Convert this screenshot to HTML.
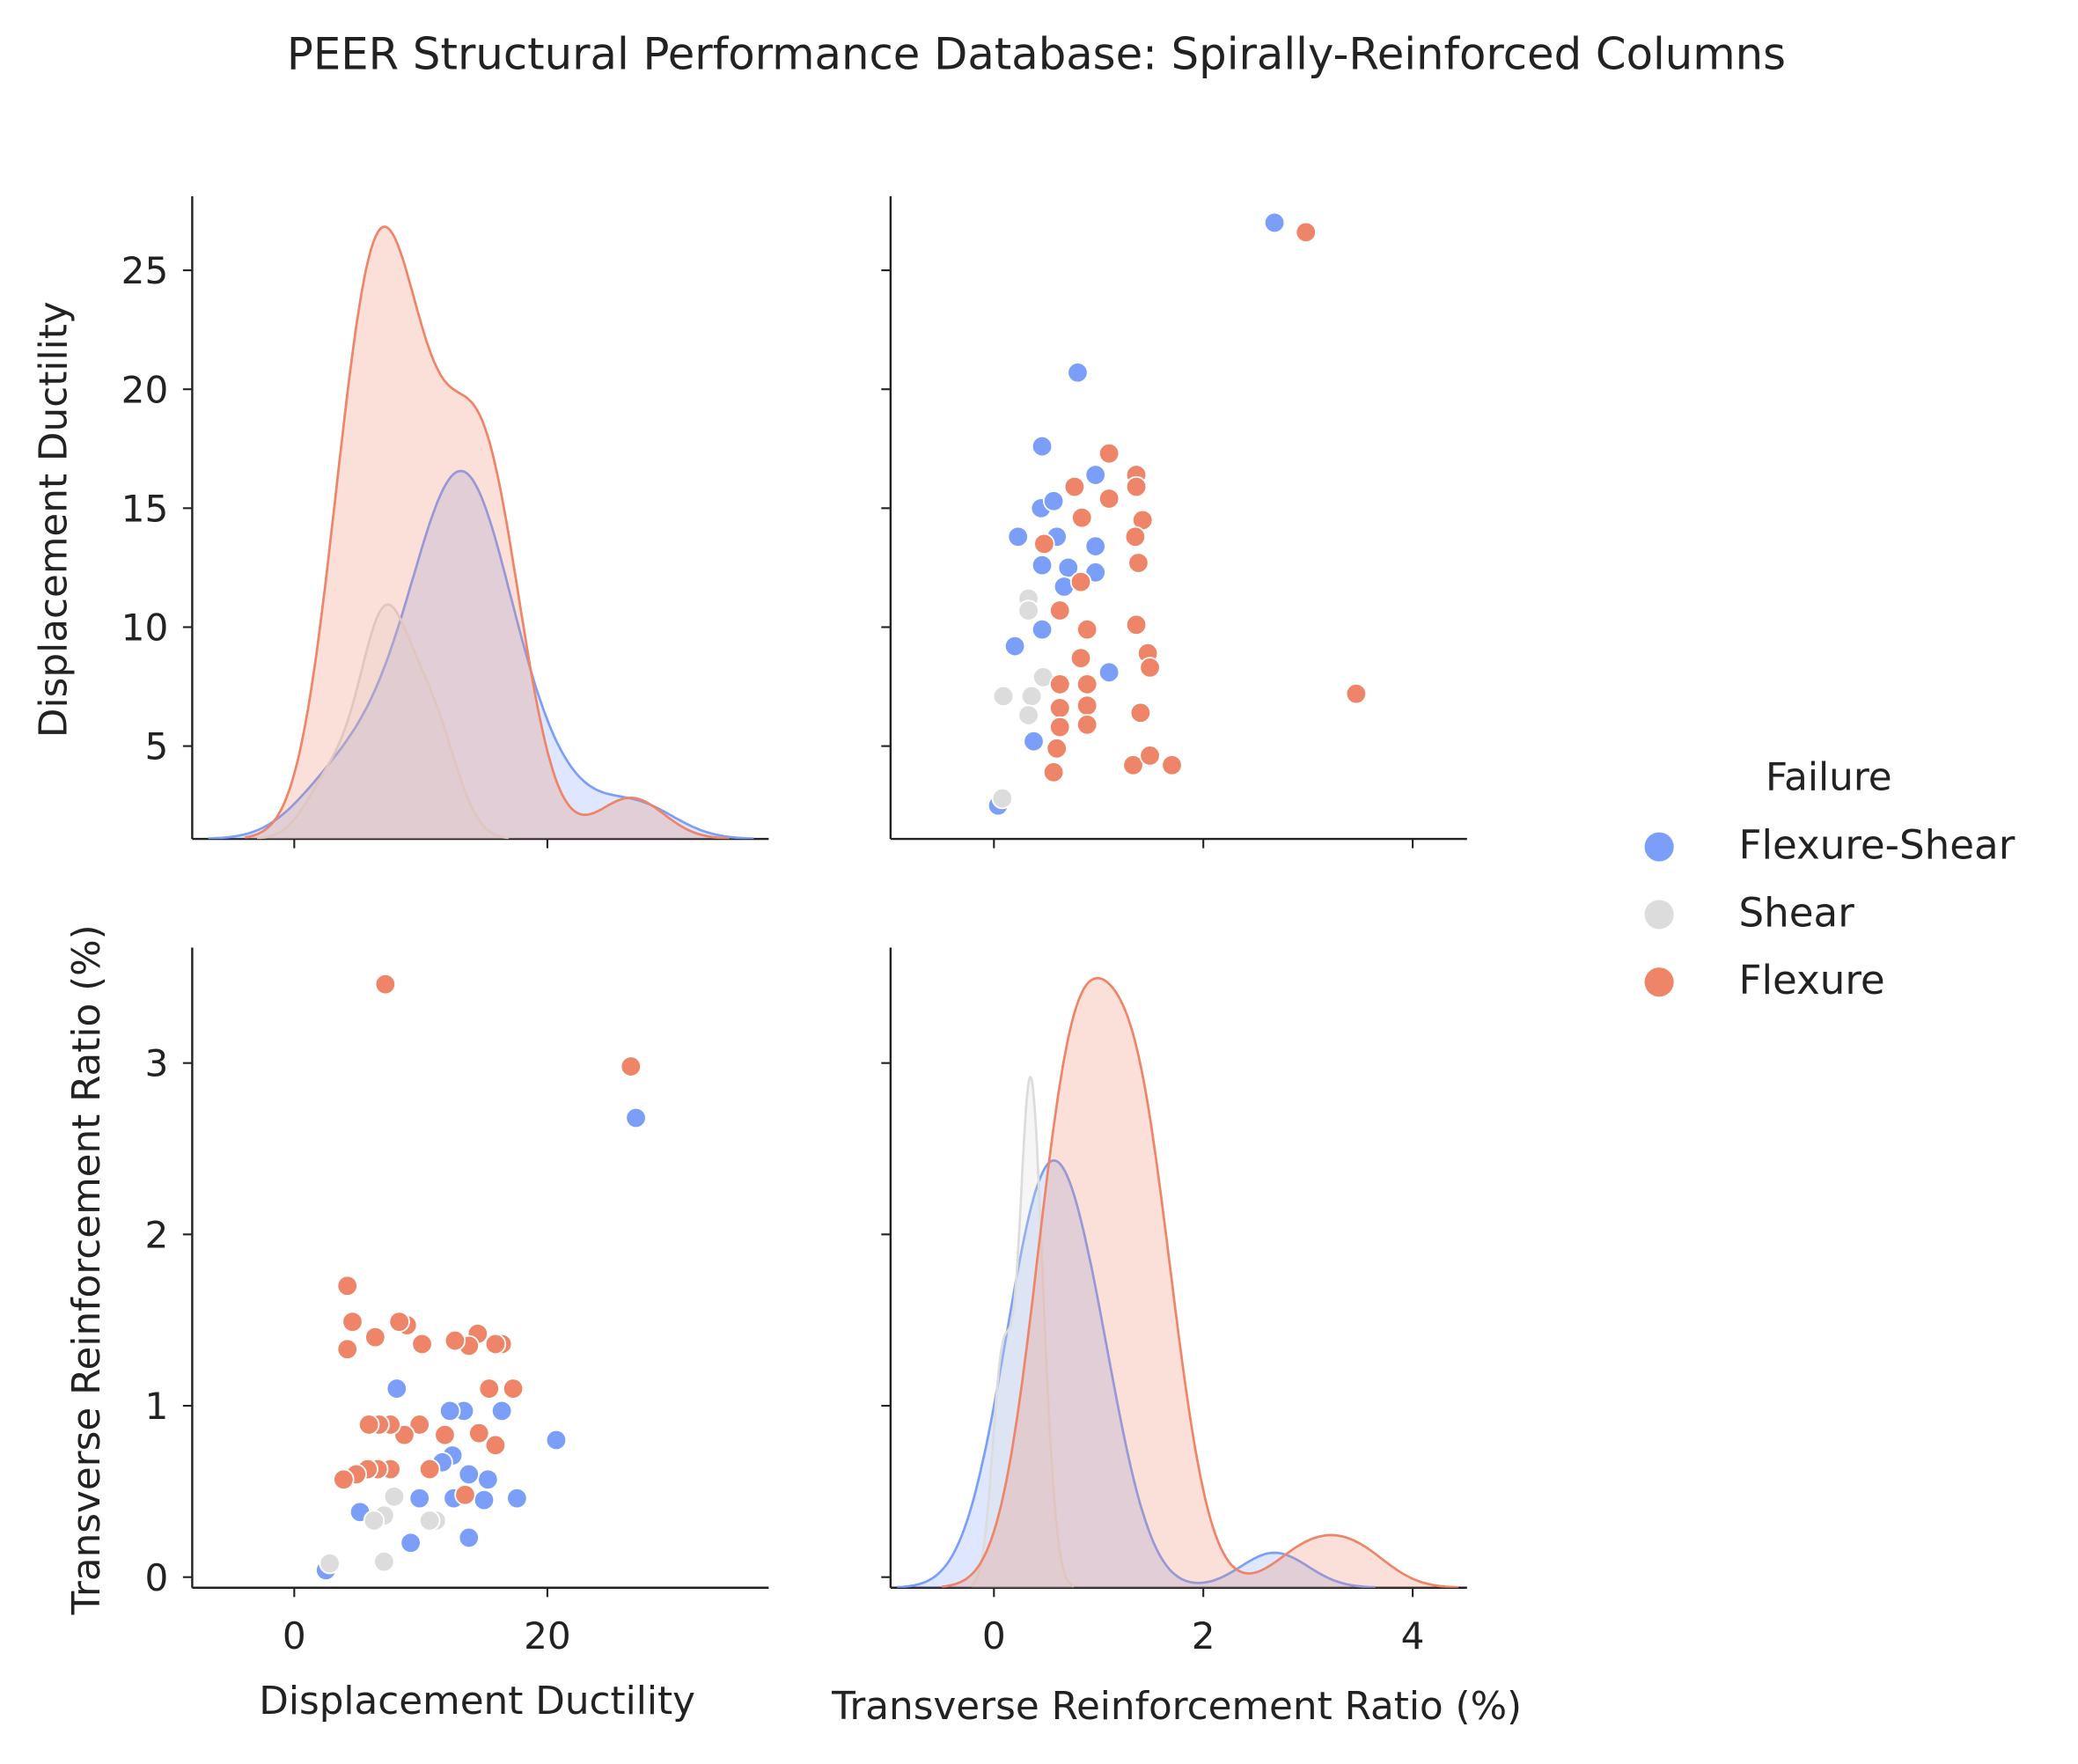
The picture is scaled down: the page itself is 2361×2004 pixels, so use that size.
<!DOCTYPE html>
<html><head><meta charset="utf-8"><style>
body{margin:0;background:#fff;}
svg{display:block;font-family:"DejaVu Sans","Liberation Sans",sans-serif;}
</style></head><body>
<svg id="chart" width="2361" height="2004" viewBox="0 0 1568 1331" xmlns="http://www.w3.org/2000/svg">
<text x="782" y="52" font-size="33" text-anchor="middle" fill="#222">PEER Structural Performance Database: Spirally-Reinforced Columns</text>
<g id="layer"></g>
<g>
<text x="1380" y="596" font-size="29" text-anchor="middle" fill="#222">Failure</text>
<circle cx="1252" cy="639" r="11" fill="#7b9ff9"/>
<text x="1312" y="648" font-size="30" fill="#222">Flexure-Shear</text>
<circle cx="1252" cy="690" r="11" fill="#dcdcdc"/>
<text x="1312" y="699" font-size="30" fill="#222">Shear</text>
<circle cx="1252" cy="741" r="11" fill="#ee8468"/>
<text x="1312" y="750" font-size="30" fill="#222">Flexure</text>
</g>
</svg>
<script>
// Data: [ratio (%), ductility]
const groups = ["Flexure-Shear","Shear","Flexure"];
const colors = ["#7b9ff9","#dcdcdc","#ee8468"];
const ratioFS = [2.68,0.80,0.46,0.97,0.45,0.57,0.23,0.60,0.97,0.46,0.71,0.97,0.67,0.20,0.46,1.10,0.38,0.04];
const ductFS  = [27.0,20.7,17.6,16.4,15.0,15.3,13.8,13.8,13.4,12.6,12.5,12.3,11.7,9.2,9.9,8.1,5.2,2.5];
const ratioSh = [0.33,0.33,0.47,0.09,0.36,0.33,0.08];
const ductSh  = [11.2,10.7,7.9,7.1,7.1,6.3,2.8];
const ratioFl = [2.98,3.46,1.10,0.77,0.84,1.10,1.36,1.36,1.42,1.35,1.38,0.48,0.83,0.63,0.89,1.36,1.47,1.49,0.83,0.89,0.63,0.63,0.89,0.63,0.89,0.60,0.57,1.40,1.33,1.49,1.70];
const ductFl  = [26.6,7.2,17.3,15.9,14.6,15.4,16.4,15.9,14.5,13.8,12.7,13.5,11.9,10.7,9.9,10.1,8.9,8.3,8.7,7.6,7.6,6.6,6.7,5.8,5.9,4.9,3.9,6.4,4.2,4.6,4.2];
const ductTicks = [0,20];
const ductYTicks = [5,10,15,20,25];
const ratioTicks = [0,2,4];
const ratioYTicks = [0,1,2,3];
const bwAdjust = 1.0;

const ratios=[ratioFS,ratioSh,ratioFl], ducts=[ductFS,ductSh,ductFl];
const NS="http://www.w3.org/2000/svg";
const L=document.getElementById('layer');
function mk(tag,attrs,parent){const e=document.createElementNS(NS,tag);for(const k in attrs)e.setAttribute(k,attrs[k]);(parent||L).appendChild(e);return e;}
const xD=v=>222+(v-0)*(413-222)/20;
const xR=v=>750+v*(1066-750)/4;
const yD=v=>652.7-v*17.95;
const yR=v=>1190-v*129.3;
const P={tl:[145,580,148,633],tr:[672,1107,148,633],bl:[145,580,715,1198],br:[672,1107,715,1198]};

function spines(p,name){const [x0,x1,y0,y1]=P[p];
 const g=mk('g',{});
 
 
 mk('line',{x1:x0,y1:y0,x2:x0,y2:y1,stroke:'#222','stroke-width':1.6},g);
 mk('line',{x1:x0,y1:y1,x2:x1,y2:y1,stroke:'#222','stroke-width':1.6},g);
 return g;}
function xticks(g,p,ticks,fx,labels){const y1=P[p][3];
 ticks.forEach(t=>{const x=fx(t);mk('line',{x1:x,y1:y1,x2:x,y2:y1+7,stroke:'#222','stroke-width':1.4},g);
 if(labels){const tx=mk('text',{x:x,y:y1+46,'font-size':28,'text-anchor':'middle',fill:'#222'},g);tx.textContent=t;
 
 }});}
function yticks(g,p,ticks,fy,labels){const x0=P[p][0];
 ticks.forEach(t=>{const y=fy(t);mk('line',{x1:x0,y1:y,x2:x0-7,y2:y,stroke:'#222','stroke-width':1.4},g);
 if(labels){const tx=mk('text',{x:x0-18,y:y+10,'font-size':28,'text-anchor':'end',fill:'#222'},g);tx.textContent=t;
 
 }});}

const gtl=spines('tl','ductility-kde'); xticks(gtl,'tl',ductTicks,xD,false); yticks(gtl,'tl',ductYTicks,yD,true);
const gtr=spines('tr','ductility-vs-ratio'); xticks(gtr,'tr',ratioTicks,xR,false); yticks(gtr,'tr',ductYTicks,yD,false);
const gbl=spines('bl','ratio-vs-ductility'); xticks(gbl,'bl',ductTicks,xD,true); yticks(gbl,'bl',ratioYTicks,yR,true);
const gbr=spines('br','ratio-kde'); xticks(gbr,'br',ratioTicks,xR,true); yticks(gbr,'br',ratioYTicks,yR,false);

function label(txt,x,y,rot,name){const t=mk('text',{x:x,y:y,'font-size':29,'text-anchor':'middle',fill:'#222',transform:rot?`rotate(-90 ${x} ${y})`:''});t.textContent=txt;
 
 }
label('Displacement Ductility',50,392,true,'y-axis-title-ductility');
label('Transverse Reinforcement Ratio (%)',75,958,true,'y-axis-title-ratio');
label('Displacement Ductility',360,1293,false,'x-axis-title-ductility');
label('Transverse Reinforcement Ratio (%)',888,1297,false,'x-axis-title-ratio');

const N=ductFS.length+ductSh.length+ductFl.length;
function kde(arr){const n=arr.length,m=arr.reduce((a,b)=>a+b)/n;
 const sd=Math.sqrt(arr.reduce((a,b)=>a+(b-m)*(b-m),0)/(n-1));const bw=sd*Math.pow(n,-0.2)*bwAdjust;
 const lo=Math.min(...arr)-3*bw,hi=Math.max(...arr)+3*bw,pts=[];
 for(let i=0;i<=200;i++){const x=lo+(hi-lo)*i/200;let s=0;arr.forEach(v=>{const z=(x-v)/bw;s+=Math.exp(-z*z/2);});
  pts.push([x,s/(n*bw*Math.sqrt(2*Math.PI))*n/N]);}return pts;}
function drawKde(series,fx,p,name){const [x0,x1,y0,y1]=P[p];
 const ks=series.map(kde);const mx=Math.max(...ks.map(k=>Math.max(...k.map(q=>q[1]))))*1.05;
 const fy=d=>y1-d/mx*(y1-y0);
 const cp=mk('clipPath',{id:'c'+p});mk('rect',{x:x0,y:y0,width:x1-x0,height:y1-y0},cp);
 ks.forEach((k,i)=>{const d=k.map((q,j)=>(j?'L':'M')+fx(q[0]).toFixed(1)+','+fy(q[1]).toFixed(1)).join('');
  const a=mk('path',{d:d+`L${fx(k[k.length-1][0])},${y1}L${fx(k[0][0])},${y1}Z`,fill:colors[i],'fill-opacity':0.25,stroke:'none','clip-path':`url(#c${p})`});
  
  
  const l=mk('path',{d:d,fill:'none',stroke:colors[i],'stroke-width':1.8,'clip-path':`url(#c${p})`});
  
  });}
drawKde(ducts,xD,'tl','ductility-kde');
drawKde(ratios,xR,'br','ratio-kde');

groups.forEach((g,i)=>{ratios[i].forEach((r,j)=>{const d=ducts[i][j];
 const c1=mk('circle',{cx:xR(r),cy:yD(d),r:7.5,fill:colors[i],stroke:'#fff','stroke-width':1.2});
 
 
 const c2=mk('circle',{cx:xD(d),cy:yR(r),r:7.5,fill:colors[i],stroke:'#fff','stroke-width':1.2});
 
 });});
</script>
</body></html>
